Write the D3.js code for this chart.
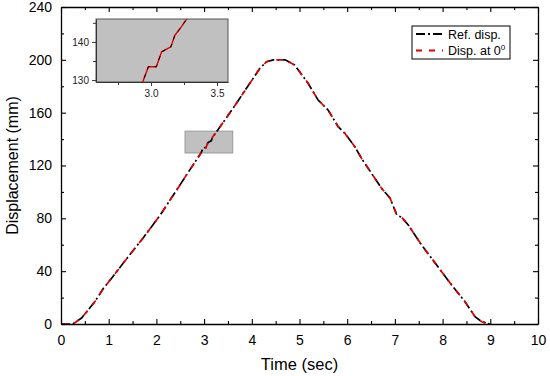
<!DOCTYPE html>
<html>
<head>
<meta charset="utf-8">
<script src="https://d3js.org/d3.v7.min.js"></script>
<style>
body { margin:0; background:#fff; }
svg { font-family: "Liberation Sans", Arial, sans-serif; }
</style>
</head>
<body>
<div id="chart"></div>
<script>
// time (s) and displacement (mm)
var timeVals = [0, 0.25, 0.29, 0.43, 0.54, 0.71, 0.89, 1.06, 1.41, 1.73, 2.08, 2.43, 2.67, 2.88, 2.94, 2.98, 3.04, 3.08, 3.15, 3.18, 3.22, 3.28, 3.61, 3.96, 4.17, 4.31, 4.45, 4.7, 4.9, 5.18, 5.39, 5.6, 5.81, 5.95, 6.16, 6.3, 6.51, 6.72, 6.9, 7.04, 7.14, 7.28, 7.56, 7.77, 7.98, 8.19, 8.47, 8.68, 8.82, 8.99];
var refDisp = [0, 0, 1, 4.5, 9.3, 16.9, 27, 34.6, 51, 65.5, 82.5, 101.7, 115, 126.4, 129.8, 133.5, 133.5, 137.4, 138.7, 141.7, 143.5, 146.5, 163.5, 182.3, 193.6, 198.6, 200, 200, 196, 182.2, 169.6, 162, 149.4, 144.4, 134.2, 125.4, 114.1, 102.7, 95.2, 82.5, 80.8, 75, 59.8, 49.7, 39.6, 29.5, 16.9, 5.5, 1.7, 0];
var dispAt0 = [0, 0, 1, 4.5, 9.3, 16.9, 27, 34.6, 51, 65.5, 82.5, 101.7, 115, 126.4, 129.8, 133.5, 133.5, 137.4, 138.7, 141.7, 143.5, 146.5, 163.5, 182.3, 193.6, 198.6, 200, 200, 196, 182.2, 169.6, 162, 149.4, 144.4, 134.2, 125.4, 114.1, 102.7, 95.2, 82.5, 80.8, 75, 59.8, 49.7, 39.6, 29.5, 16.9, 5.5, 1.7, 0];

var xTicks = [0,1,2,3,4,5,6,7,8,9,10];
var yTicks = [0,40,80,120,160,200,240];
var insetXTicks = [3.0, 3.5];
var insetYTicks = [130, 140];
var zoomBox = {x0: 2.6, x1: 3.6, y0: 129.5, y1: 146};

var W = 550, H = 376;
var m = {left: 61, right: 12, top: 7, bottom: 52};
var w = W - m.left - m.right;
var h = H - m.top - m.bottom;

var svg = d3.select("#chart").append("svg")
	.attr("width", W)
	.attr("height", H);

var g = svg.append("g").attr("transform", "translate(" + m.left + "," + m.top + ")");

var x = d3.scaleLinear().domain([0, 10]).range([0, w]);
var y = d3.scaleLinear().domain([0, 240]).range([h, 0]);

var pts = timeVals.map(function(t, i){ return [t, refDisp[i], dispAt0[i]]; });

var lineRef = d3.line().x(function(d){ return x(d[0]); }).y(function(d){ return y(d[1]); });
var lineDisp = d3.line().x(function(d){ return x(d[0]); }).y(function(d){ return y(d[2]); });

// highlight box for zoom region
g.append("rect")
	.attr("x", x(zoomBox.x0))
	.attr("y", y(zoomBox.y1))
	.attr("width", x(zoomBox.x1) - x(zoomBox.x0))
	.attr("height", y(zoomBox.y0) - y(zoomBox.y1))
	.style("fill", "#c0c0c0")
	.style("stroke", "#999");

g.append("path").datum(pts)
	.attr("d", lineRef)
	.style("fill", "none")
	.style("stroke", "#000")
	.style("stroke-width", 1.7)
	.style("stroke-dasharray", "9,3,2,3");

g.append("path").datum(pts)
	.attr("d", lineDisp)
	.style("fill", "none")
	.style("stroke", "#e00000")
	.style("stroke-width", 1.7)
	.style("stroke-dasharray", "6,7");

// axes, ticks inward on all four sides
function styleAxis(sel){
	sel.select(".domain").style("stroke", "#000").style("stroke-width", 1.3);
	sel.selectAll(".tick line").style("stroke", "#000").style("stroke-width", 1.1);
	sel.selectAll("text").style("font-size", "14px").style("fill", "#000");
}

var xMinor = d3.range(0.5, 10, 1);
var yMinor = d3.range(20, 240, 40);

var xb = g.append("g").attr("transform", "translate(0," + h + ")")
	.call(d3.axisBottom(x).tickValues(xTicks).tickFormat(d3.format("d")).tickSizeInner(-5).tickSizeOuter(0).tickPadding(8));
styleAxis(xb);
xb.selectAll("text").attr("dy", "0.9em");
g.append("g").attr("transform", "translate(0," + h + ")")
	.call(d3.axisBottom(x).tickValues(xMinor).tickFormat("").tickSizeInner(-3).tickSizeOuter(0))
	.call(styleAxis).select(".domain").remove();

var xt = g.append("g")
	.call(d3.axisTop(x).tickValues(xTicks).tickFormat("").tickSizeInner(-5).tickSizeOuter(0));
styleAxis(xt);
g.append("g")
	.call(d3.axisTop(x).tickValues(xMinor).tickFormat("").tickSizeInner(-3).tickSizeOuter(0))
	.call(styleAxis).select(".domain").remove();

var yl = g.append("g")
	.call(d3.axisLeft(y).tickValues(yTicks).tickFormat(d3.format("d")).tickSizeInner(-5).tickSizeOuter(0).tickPadding(9));
styleAxis(yl);
g.append("g")
	.call(d3.axisLeft(y).tickValues(yMinor).tickFormat("").tickSizeInner(-3).tickSizeOuter(0))
	.call(styleAxis).select(".domain").remove();

var yr = g.append("g").attr("transform", "translate(" + w + ",0)")
	.call(d3.axisRight(y).tickValues(yTicks).tickFormat("").tickSizeInner(-5).tickSizeOuter(0));
styleAxis(yr);
g.append("g").attr("transform", "translate(" + w + ",0)")
	.call(d3.axisRight(y).tickValues(yMinor).tickFormat("").tickSizeInner(-3).tickSizeOuter(0))
	.call(styleAxis).select(".domain").remove();

// axis titles
svg.append("text")
	.attr("x", m.left + w / 2)
	.attr("y", 370)
	.attr("text-anchor", "middle")
	.style("font-size", "16.5px")
	.text("Time (sec)");

svg.append("text")
	.attr("transform", "translate(18," + (m.top + h / 2) + ") rotate(-90)")
	.attr("text-anchor", "middle")
	.style("font-size", "16px")
	.text("Displacement (mm)");

// legend
var lg = svg.append("g").attr("transform", "translate(412,26)");
lg.append("rect").attr("width", 98).attr("height", 33)
	.style("fill", "#fff").style("stroke", "#000").style("stroke-width", 1);
var legItems = [
	{label: "Ref. disp.", color: "#000", dash: "9,3,2,3", sup: null},
	{label: "Disp. at 0", color: "#e00000", dash: "6,7", sup: "0"}
];
legItems.forEach(function(d, i){
	var yy = 8 + i * 16.5;
	lg.append("line").attr("x1", 4).attr("x2", 31).attr("y1", yy).attr("y2", yy)
		.style("stroke", d.color).style("stroke-width", 1.8).style("stroke-dasharray", d.dash);
	var t = lg.append("text").attr("x", 36).attr("y", yy + 4.5).style("font-size", "12.5px").text(d.label);
	if (d.sup) t.append("tspan").attr("dy", -5).style("font-size", "8px").text(d.sup);
});

// inset
var ins = {left: 96, top: 19, width: 132, height: 63};
var ix = d3.scaleLinear().domain([zoomBox.x0 - 0.017, zoomBox.x1 - 0.017]).range([0, ins.width]);
var iy = d3.scaleLinear().domain([zoomBox.y0, zoomBox.y1]).range([ins.height, 0]);
var ig = svg.append("g").attr("transform", "translate(" + ins.left + "," + ins.top + ")");

ig.append("clipPath").attr("id", "insClip")
	.append("rect").attr("width", ins.width).attr("height", ins.height);
ig.append("rect").attr("width", ins.width).attr("height", ins.height)
	.style("fill", "#c0c0c0").style("stroke", "#555").style("stroke-width", 1);

var iline = d3.line().x(function(d){ return ix(d[0]); }).y(function(d){ return iy(d[1]); });
var iline2 = d3.line().x(function(d){ return ix(d[0]); }).y(function(d){ return iy(d[2]); });
ig.append("path").datum(pts).attr("d", iline2).attr("clip-path", "url(#insClip)")
	.style("fill", "none").style("stroke", "#e00000").style("stroke-width", 1.4);
ig.append("path").datum(pts).attr("d", iline).attr("clip-path", "url(#insClip)")
	.style("fill", "none").style("stroke", "#000").style("stroke-width", 1)
	.style("stroke-dasharray", "4,5");

function styleInset(sel){
	sel.select(".domain").style("stroke", "#333");
	sel.selectAll(".tick line").style("stroke", "#333");
	sel.selectAll("text").style("font-size", "10px").style("fill", "#222");
}
var ixa = ig.append("g").attr("transform", "translate(0," + ins.height + ")")
	.call(d3.axisBottom(ix).tickValues(insetXTicks).tickFormat(d3.format(".1f")).tickSizeInner(4).tickSizeOuter(0).tickPadding(4));
styleInset(ixa);
ig.append("g").attr("transform", "translate(0," + ins.height + ")")
	.call(d3.axisBottom(ix).tickValues([2.75, 3.25]).tickFormat("").tickSizeInner(3).tickSizeOuter(0))
	.call(styleInset).select(".domain").remove();
var iya = ig.append("g")
	.call(d3.axisLeft(iy).tickValues(insetYTicks).tickFormat(d3.format("d")).tickSizeInner(4).tickSizeOuter(0).tickPadding(3));
styleInset(iya);
ig.append("g")
	.call(d3.axisLeft(iy).tickValues([135, 145]).tickFormat("").tickSizeInner(3).tickSizeOuter(0))
	.call(styleInset).select(".domain").remove();
</script>
</body>
</html>
